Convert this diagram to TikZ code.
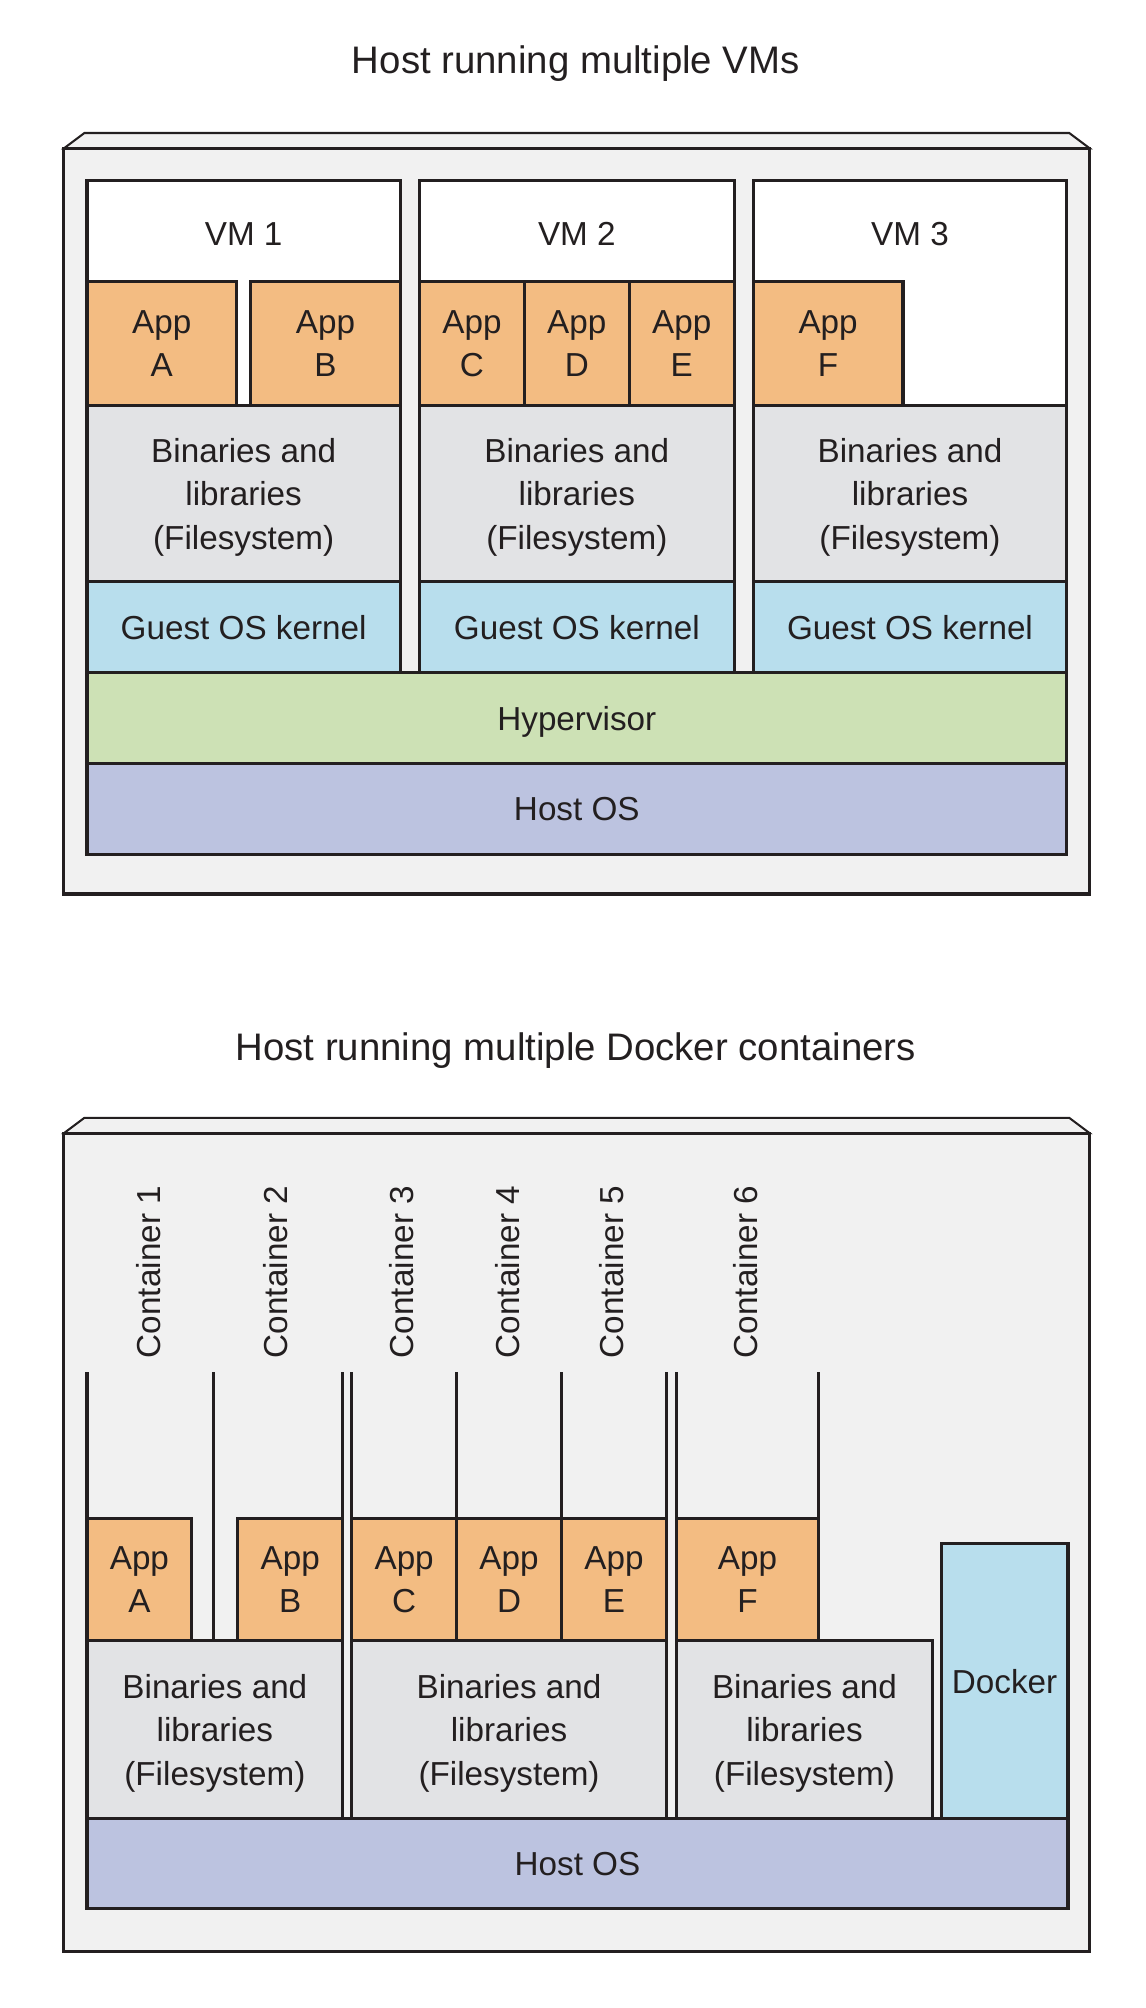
\documentclass[tikz,border=0pt]{standalone}
\usepackage{fontspec}
\setmainfont{Liberation Sans}
\definecolor{ink}{HTML}{231F20}
\definecolor{shell}{HTML}{F1F1F1}
\definecolor{appc}{HTML}{F3BC82}
\definecolor{binc}{HTML}{E2E3E5}
\definecolor{kernc}{HTML}{B8DEED}
\definecolor{hypc}{HTML}{CDE1B5}
\definecolor{hostc}{HTML}{BCC3E0}
\begin{document}
\begin{tikzpicture}[x=1pt,y=-1pt,
  line join=miter,
  blk/.style={draw=ink, line width=2.4pt, inner sep=0pt, outer sep=0pt,
    anchor=north west, align=center, text=ink, text depth=0pt,
    font=\fontsize{26}{34}\selectfont},
  app/.style={blk, fill=appc},
  bin/.style={blk, fill=binc},
  kern/.style={blk, fill=kernc},
  hyp/.style={blk, fill=hypc},
  host/.style={blk, fill=hostc},
  vm/.style={blk, fill=white},
  shellbox/.style={draw=ink, line width=2.4pt, fill=shell, inner sep=0pt, outer sep=0pt, anchor=north west},
  lid/.style={draw=ink, line width=1.6pt, fill=shell},
  title/.style={inner sep=0pt, anchor=base west, text=ink, font=\fontsize{30}{36}\selectfont},
  lbl/.style={inner sep=0pt, text=ink, font=\fontsize{26}{34}\selectfont},
  clbl/.style={lbl, rotate=90, anchor=west},
  wall/.style={draw=ink, line width=2.4pt}
]
\useasboundingbox (0,0) rectangle (896,1570);

% ---------------- Top: VMs ----------------
\node[title] (t1) at (275,57.3) {Host running multiple VMs};

\node[shellbox, minimum width=802pt, minimum height=583pt] (outer1) at (50,116) {};
\path[lid] (outer1.north west) -- (66,104) -- (836,104) -- (outer1.north east) -- cycle;
\node[shellbox, minimum width=802pt, minimum height=583pt] at (50,116) {};

\node[vm, minimum width=245pt, minimum height=385pt] (vm1) at (68,141) {};
\node[vm, minimum width=246pt, minimum height=385pt] (vm2) at (328,141) {};
\node[vm, minimum width=245pt, minimum height=385pt] (vm3) at (589,141) {};
\node[lbl] (vm1l) at (190.5,183) {VM 1};
\node[lbl] (vm2l) at (451,183) {VM 2};
\node[lbl] (vm3l) at (711.5,183) {VM 3};

\node[app, minimum width=117pt, minimum height=97pt] (a1) at (68,220) {App\\A};
\node[app, minimum width=117pt, minimum height=97pt] (b1) at (196,220) {App\\B};
\node[app, minimum width=82pt, minimum height=97pt] (c1) at (328,220) {App\\C};
\node[app, minimum width=82pt, minimum height=97pt] (d1) at (410,220) {App\\D};
\node[app, minimum width=82pt, minimum height=97pt] (e1) at (492,220) {App\\E};
\node[app, minimum width=117pt, minimum height=97pt] (f1) at (589,220) {App\\F};

\node[bin, minimum width=245pt, minimum height=138pt] (bl1) at (68,317) {Binaries and\\libraries\\(Filesystem)};
\node[bin, minimum width=246pt, minimum height=138pt] (bl2) at (328,317) {Binaries and\\libraries\\(Filesystem)};
\node[bin, minimum width=245pt, minimum height=138pt] (bl3) at (589,317) {Binaries and\\libraries\\(Filesystem)};

\node[kern, minimum width=245pt, minimum height=71pt] (k1) at (68,455) {Guest OS kernel};
\node[kern, minimum width=246pt, minimum height=71pt] (k2) at (328,455) {Guest OS kernel};
\node[kern, minimum width=245pt, minimum height=71pt] (k3) at (589,455) {Guest OS kernel};

\node[hyp, minimum width=766pt, minimum height=71pt] (hyp) at (68,526) {Hypervisor};
\node[host, minimum width=766pt, minimum height=71pt] (host1) at (68,597) {Host OS};

% ---------------- Bottom: containers ----------------
\node[title] (t2) at (184,828.8) {Host running multiple Docker containers};

\node[shellbox, minimum width=802pt, minimum height=640pt] (outer2) at (50,886) {};
\path[lid] (outer2.north west) -- (66,874) -- (836,874) -- (outer2.north east) -- cycle;
\node[shellbox, minimum width=802pt, minimum height=640pt] at (50,886) {};

% container wall tops
\coordinate (w1) at (68,1073);
\coordinate (w2) at (167,1073);
\coordinate (w3) at (268,1073);
\coordinate (w4) at (275,1073);
\coordinate (w5) at (357,1073);
\coordinate (w6) at (439,1073);
\coordinate (w7) at (521,1073);
\coordinate (w8) at (529,1073);
\coordinate (w9) at (640,1073);

\node[app, minimum width=82pt, minimum height=96pt] (a2) at (68,1187) {App\\A};
\node[app, minimum width=82pt, minimum height=96pt] (b2) at (186,1187) {App\\B};
\node[app, minimum width=82pt, minimum height=96pt] (c2) at (275,1187) {App\\C};
\node[app, minimum width=82pt, minimum height=96pt] (d2) at (357,1187) {App\\D};
\node[app, minimum width=82pt, minimum height=96pt] (e2) at (439,1187) {App\\E};
\node[app, minimum width=111pt, minimum height=96pt] (f2) at (529,1187) {App\\F};

\node[bin, minimum width=200pt, minimum height=139pt] (cb1) at (68,1283) {Binaries and\\libraries\\(Filesystem)};
\node[bin, minimum width=246pt, minimum height=139pt] (cb2) at (275,1283) {Binaries and\\libraries\\(Filesystem)};
\node[bin, minimum width=200pt, minimum height=139pt] (cb3) at (529,1283) {Binaries and\\libraries\\(Filesystem)};

\node[kern, minimum width=99pt, minimum height=215pt] (dock) at (736,1207) {Docker};
\node[host, minimum width=767pt, minimum height=70pt] (host2) at (68,1422) {Host OS};

\draw[wall] (w1) -- (a2.north west);
\draw[wall] (w2) -- (w2 |- cb1.north);
\draw[wall] (w3) -- (b2.north east);
\draw[wall] (w4) -- (c2.north west);
\draw[wall] (w5) -- (c2.north east);
\draw[wall] (w6) -- (d2.north east);
\draw[wall] (w7) -- (e2.north east);
\draw[wall] (w8) -- (f2.north west);
\draw[wall] (w9) -- (f2.north east);

\node[clbl] (cl1) at (116,1062) {Container 1};
\node[clbl] (cl2) at (215.5,1062) {Container 2};
\node[clbl] (cl3) at (314,1062) {Container 3};
\node[clbl] (cl4) at (396.5,1062) {Container 4};
\node[clbl] (cl5) at (478.5,1062) {Container 5};
\node[clbl] (cl6) at (583,1062) {Container 6};
\end{tikzpicture}
\end{document}
